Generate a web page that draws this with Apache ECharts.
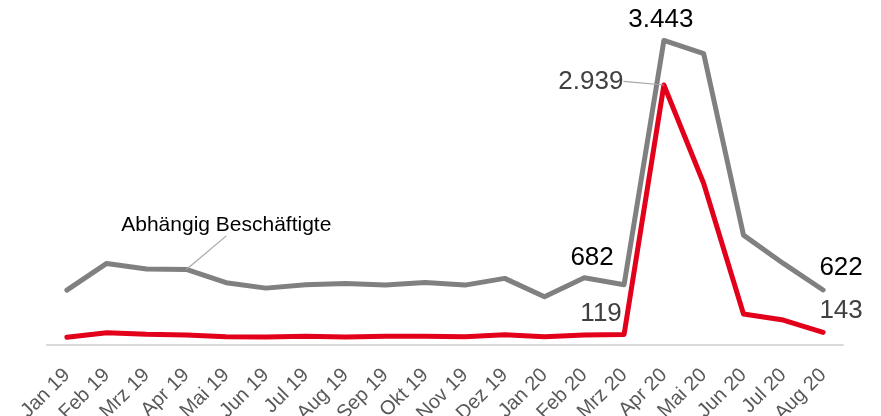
<!DOCTYPE html>
<html>
<head>
<meta charset="utf-8">
<script src="https://cdn.jsdelivr.net/npm/echarts@6/dist/echarts.min.js"></script>
<style>
html,body{margin:0;padding:0;background:#fff;}
#chart{width:881px;height:416px;}
</style>
</head>
<body>
<div id="chart"></div>
<script>
var categories = ['Jan 19','Feb 19','Mrz 19','Apr 19','Mai 19','Jun 19','Jul 19','Aug 19','Sep 19','Okt 19','Nov 19','Dez 19','Jan 20','Feb 20','Mrz 20','Apr 20','Mai 20','Jun 20','Jul 20','Aug 20'];
var beschaeftigte = [621, 922, 858, 854, 704, 643, 681, 696, 677, 707, 677, 753, 545, 760, 682, 3443, 3293, 1242, 922, 622];
var zweiteReihe = [87, 139, 121, 113, 94, 90, 98, 90, 98, 98, 94, 117, 94, 113, 119, 2939, 1825, 350, 282, 143];
var seriesName = 'Abhängig Beschäftigte';

function fmt(v){ return String(v).replace(/\B(?=(\d{3})+(?!\d))/g, '.'); }

var FONT = 'Liberation Sans, Arial, sans-serif';

// label settings per index (style only)
var grayLabels = {
  3: {text: seriesName, size: 21, dx: 40, dy: -33.5, line: true},
  14: {dx: -32, dy: -13.5},
  15: {dx: -3, dy: -7.5},
  19: {dx: 18, dy: -9.5}
};
var redLabels = {
  14: {dx: -23, dy: -7.5},
  15: {dx: -73, dy: 9.5, line: true},
  19: {dx: 18, dy: -8.5}
};

function buildData(values, cfg, color) {
  return values.map(function(v, i){
    var c = cfg[i];
    if (!c) return {value: v};
    return {
      value: v,
      label: {
        show: true,
        position: 'top',
        distance: 0,
        color: color,
        fontFamily: FONT,
        fontSize: c.size || 26,
        formatter: c.text ? c.text : function(p){ return fmt(p.value); }
      },
      labelLine: {show: !!c.line, lineStyle: {color: '#a6a6a6', width: 1.2}}
    };
  });
}

function layoutFor(cfg){
  return function(params){
    var c = cfg[params.dataIndex];
    if (c) return {dx: c.dx, dy: c.dy};
    return {};
  };
}

var chart = echarts.init(document.getElementById('chart'));
chart.setOption({
  animation: false,
  backgroundColor: '#ffffff',
  grid: {left: 47, right: 38, top: 0, bottom: 71, containLabel: false, outerBoundsMode: 'none'},
  xAxis: {
    type: 'category',
    data: categories,
    boundaryGap: true,
    axisLine: {show: true, lineStyle: {color: '#d9d9d9', width: 2}},
    axisTick: {show: false},
    axisLabel: {interval: 0, rotate: 45, margin: 27, color: '#595959', fontSize: 20, fontFamily: FONT}
  },
  yAxis: {
    type: 'value',
    min: 0,
    max: 3900,
    show: false,
    splitLine: {show: false}
  },
  series: [
    {
      name: seriesName,
      type: 'line',
      data: buildData(beschaeftigte, grayLabels, '#000000'),
      showSymbol: true,
      symbol: 'circle',
      symbolSize: 0.1,
      itemStyle: {color: '#808080'},
      lineStyle: {color: '#808080', width: 5, cap: 'round', join: 'round'},
      label: {show: false},
      labelLine: {show: false},
      labelLayout: layoutFor(grayLabels),
      z: 2
    },
    {
      name: 'Reihe 2',
      type: 'line',
      data: buildData(zweiteReihe, redLabels, '#404040'),
      showSymbol: true,
      symbol: 'circle',
      symbolSize: 0.1,
      itemStyle: {color: '#e2001a'},
      lineStyle: {color: '#e2001a', width: 5, cap: 'round', join: 'round'},
      label: {show: false},
      labelLine: {show: false},
      labelLayout: layoutFor(redLabels),
      z: 3
    }
  ]
});
</script>
</body>
</html>
